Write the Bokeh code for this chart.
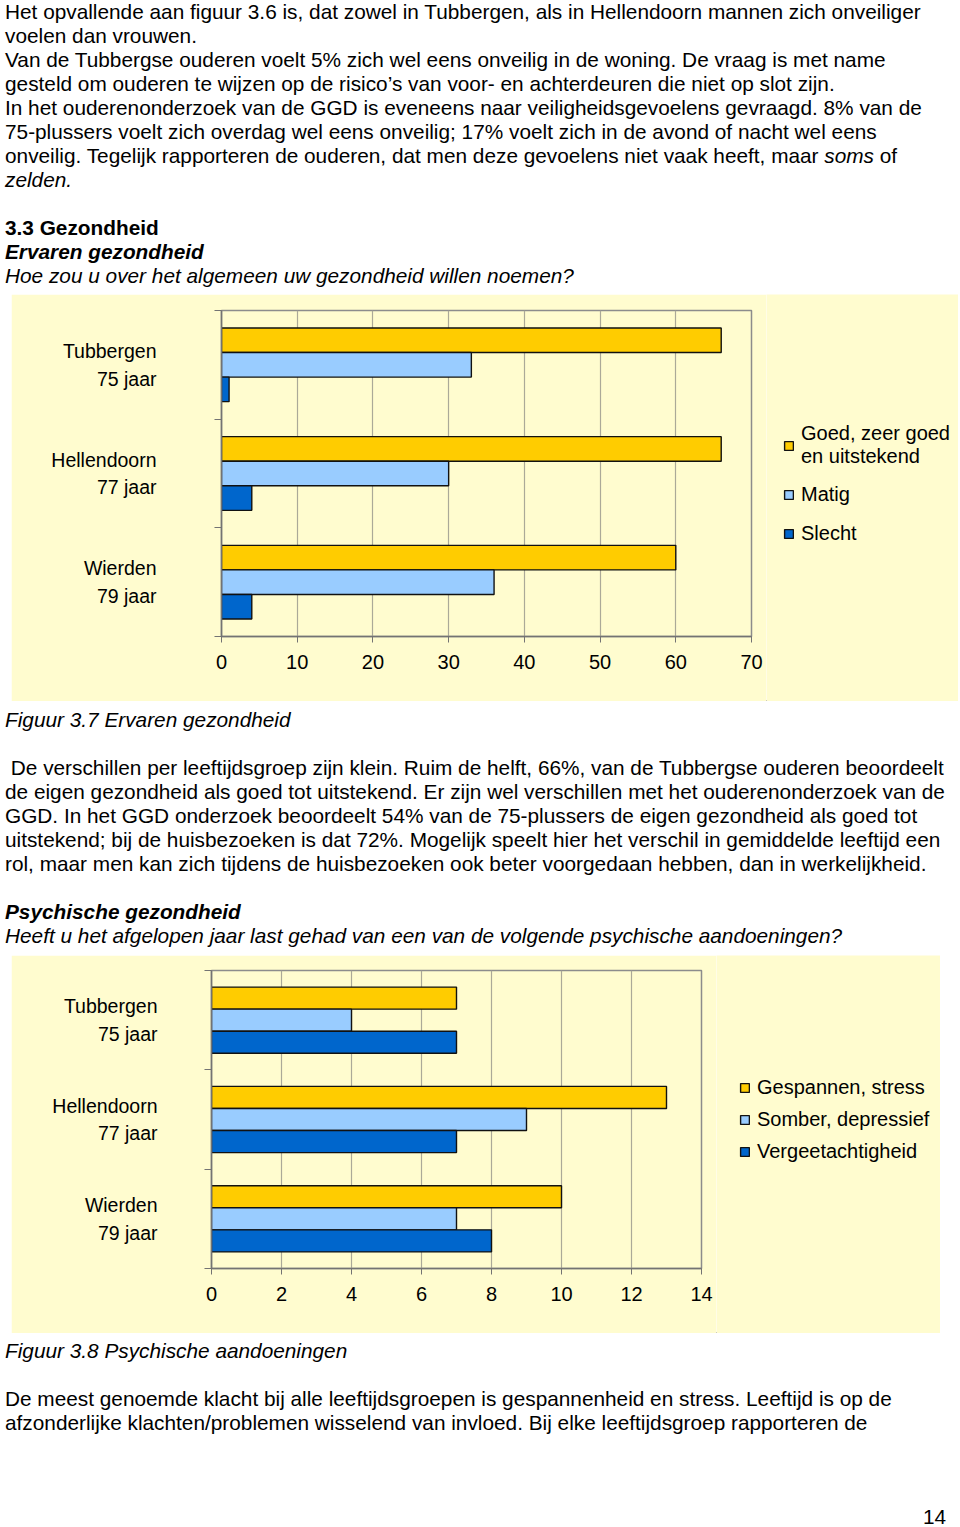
from bokeh.plotting import figure
from bokeh.models import (ColumnDataSource, Range1d, FixedTicker,
                          Legend, LegendItem, Div)
from bokeh.transform import dodge
from bokeh.layouts import column, row
from bokeh.embed import file_html
from bokeh.resources import INLINE

FONT = "Liberation Sans"

# ---- data: figure 3.7 Ervaren gezondheid (%)
places = ["Tubbergen\n75 jaar", "Hellendoorn\n77 jaar", "Wierden\n79 jaar"]
health_series = ["Goed, zeer goed\nen uitstekend", "Matig", "Slecht"]
health_goed = [66, 66, 60]
health_matig = [33, 30, 36]
health_slecht = [1, 4, 4]
health_ticks = [0, 10, 20, 30, 40, 50, 60, 70]

# ---- data: figure 3.8 Psychische aandoeningen (%)
psych_series = ["Gespannen, stress", "Somber, depressief", "Vergeetachtigheid"]
psych_stress = [7, 13, 10]
psych_somber = [4, 9, 7]
psych_vergeet = [7, 7, 8]
psych_ticks = [0, 2, 4, 6, 8, 10, 12, 14]

COLORS = ["#FFCC00", "#99CCFF", "#0066CC"]
BG = "#FFFCCF"
AXIS = "#737373"
GRID = "#ABA998"
BAR_LINE = dict(line_color="#111111", line_width=1.4)


def make_chart(vals, names, ticks, width, height, left, fw, top, fh, bar_h,
               label_standoff, leg_width, leg_x, leg_y, leg_spacing):
    n = len(places)
    # category slots: first category at the top
    pos = [n - i - 0.5 for i in range(n)]
    src = ColumnDataSource(dict(place=places, pos=pos, v0=vals[0], v1=vals[1], v2=vals[2]))
    p = figure(width=width, height=height,
               y_range=Range1d(0, n),
               x_range=Range1d(ticks[0], ticks[-1]),
               output_backend="svg", toolbar_location=None,
               min_border_left=left, min_border_right=width - left - fw,
               min_border_top=top, min_border_bottom=height - top - fh,
               background_fill_color=BG, border_fill_color=BG,
               outline_line_color="#8C8C8C", outline_line_width=1.5,
               margin=(0, 0, 0, 11))
    p.frame_align = False
    offs = [bar_h, 0, -bar_h]
    for i in range(3):
        p.hbar(y=dodge("pos", offs[i]), left=0, right=f"v{i}",
               height=bar_h, source=src, fill_color=COLORS[i], **BAR_LINE)

    p.xaxis.ticker = FixedTicker(ticks=ticks)
    p.xaxis.major_tick_out = 6
    p.xaxis.major_tick_in = 0
    p.xaxis.minor_tick_line_color = None
    p.xaxis.axis_line_color = AXIS
    p.xaxis.axis_line_width = 1.5
    p.xaxis.major_tick_line_color = AXIS
    p.xaxis.major_label_text_font = FONT
    p.xaxis.major_label_text_font_size = "20px"
    p.xaxis.major_label_text_color = "#000000"
    p.xaxis.major_label_standoff = 12
    p.xgrid.ticker = FixedTicker(ticks=ticks)
    p.xgrid.grid_line_color = GRID
    p.xgrid.grid_line_width = 1.2
    p.ygrid.visible = False

    # category names at slot centres, small ticks on the slot boundaries
    p.yaxis.ticker = FixedTicker(ticks=pos, minor_ticks=list(range(n + 1)))
    p.yaxis.major_label_overrides = {pos[i]: places[i] for i in range(n)}
    p.yaxis.major_tick_out = 0
    p.yaxis.major_tick_in = 0
    p.yaxis.major_tick_line_color = None
    p.yaxis.minor_tick_out = 7
    p.yaxis.minor_tick_in = 0
    p.yaxis.minor_tick_line_color = AXIS
    p.yaxis.minor_tick_line_width = 1.2
    p.yaxis.axis_line_color = AXIS
    p.yaxis.axis_line_width = 1.5
    p.yaxis.major_label_standoff = label_standoff
    p.yaxis.major_label_text_font = FONT
    p.yaxis.major_label_text_font_size = "19.5px"
    p.yaxis.major_label_text_color = "#000000"
    p.yaxis.major_label_text_align = "center"
    p.yaxis.major_label_text_line_height = 1.25

    # legend panel to the right of the chart (same yellow background);
    # key renderers sit outside this panel's frame, only their swatches show
    q = figure(width=leg_width, height=height, output_backend="svg", toolbar_location=None,
               x_range=Range1d(0, 1), y_range=Range1d(0, 1),
               x_axis_location=None, y_axis_location=None,
               min_border=0, background_fill_color=BG, border_fill_color=BG,
               outline_line_color=None, margin=(0, 0, 0, 0))
    q.frame_align = False
    q.grid.visible = False
    keys = [q.hbar(y=[-5], left=[-5], right=[-4], height=1, fill_color=COLORS[i], **BAR_LINE)
            for i in range(3)]
    legend = Legend(items=[LegendItem(label=names[i], renderers=[keys[i]]) for i in range(3)],
                    location=(leg_x, leg_y), orientation="vertical",
                    glyph_width=11, glyph_height=11, label_standoff=7, label_height=25,
                    label_text_font=FONT, label_text_font_size="20px",
                    label_text_line_height=1.25, label_text_color="#000000",
                    spacing=leg_spacing, padding=0, margin=0,
                    border_line_color=None, background_fill_alpha=0)
    q.add_layout(legend)
    return row(p, q, spacing=0)


r1 = make_chart([health_goed, health_matig, health_slecht], health_series, health_ticks,
                width=755, height=407, left=210, fw=530, top=16, fh=326, bar_h=0.226,
                label_standoff=58, leg_width=192, leg_x=17, leg_y=155, leg_spacing=14)
r2 = make_chart([psych_stress, psych_somber, psych_vergeet], psych_series, psych_ticks,
                width=705, height=378, left=200, fw=490, top=15, fh=298, bar_h=0.222,
                label_standoff=47, leg_width=224, leg_x=23, leg_y=169, leg_spacing=7)


def text_div(lines, height, top, extra=""):
    html = "<br>".join(lines)
    style = ("position:relative;top:%dpx;left:5px;font-family:'Liberation Sans',Arial,sans-serif;"
             "font-size:20.8px;line-height:24px;white-space:nowrap;color:#000;" % top)
    return Div(text='<div style="%s">%s%s</div>' % (style, html, extra),
               width=944, height=height, margin=(0, 0, 0, 0))


block1 = [
    "Het opvallende aan figuur 3.6 is, dat zowel in Tubbergen, als in Hellendoorn mannen zich onveiliger",
    "voelen dan vrouwen.",
    "Van de Tubbergse ouderen voelt 5% zich wel eens onveilig in de woning. De vraag is met name",
    "gesteld om ouderen te wijzen op de risico\u2019s van voor- en achterdeuren die niet op slot zijn.",
    "In het ouderenonderzoek van de GGD is eveneens naar veiligheidsgevoelens gevraagd. 8% van de",
    "75-plussers voelt zich overdag wel eens onveilig; 17% voelt zich in de avond of nacht wel eens",
    "onveilig. Tegelijk rapporteren de ouderen, dat men deze gevoelens niet vaak heeft, maar <i>soms</i> of",
    "<i>zelden.</i>",
    "&nbsp;",
    "<b>3.3 Gezondheid</b>",
    "<b><i>Ervaren gezondheid</i></b>",
    "<i>Hoe zou u over het algemeen uw gezondheid willen noemen?</i>",
]
block2 = [
    "<i>Figuur 3.7 Ervaren gezondheid</i>",
    "&nbsp;",
    "&nbsp;De verschillen per leeftijdsgroep zijn klein. Ruim de helft, 66%, van de Tubbergse ouderen beoordeelt",
    "de eigen gezondheid als goed tot uitstekend. Er zijn wel verschillen met het ouderenonderzoek van de",
    "GGD. In het GGD onderzoek beoordeelt 54% van de 75-plussers de eigen gezondheid als goed tot",
    "uitstekend; bij de huisbezoeken is dat 72%. Mogelijk speelt hier het verschil in gemiddelde leeftijd een",
    "rol, maar men kan zich tijdens de huisbezoeken ook beter voorgedaan hebben, dan in werkelijkheid.",
    "&nbsp;",
    "<b><i>Psychische gezondheid</i></b>",
    "<i>Heeft u het afgelopen jaar last gehad van een van de volgende psychische aandoeningen?</i>",
]
block3 = [
    "<i>Figuur 3.8 Psychische aandoeningen</i>",
    "&nbsp;",
    "De meest genoemde klacht bij alle leeftijdsgroepen is gespannenheid en stress. Leeftijd is op de",
    "afzonderlijke klachten/problemen wisselend van invloed. Bij elke leeftijdsgroep rapporteren de",
]

d1 = text_div(block1, 294, 0)
d2 = text_div(block2, 254, 7)
d3 = text_div(block3, 192, 6,
              extra='<div style="position:absolute;top:166px;left:918px;">14</div>')

layout = column(d1, r1, d2, r2, d3, spacing=0)

with open("out.html", "w") as f:
    f.write(file_html(layout, INLINE))
